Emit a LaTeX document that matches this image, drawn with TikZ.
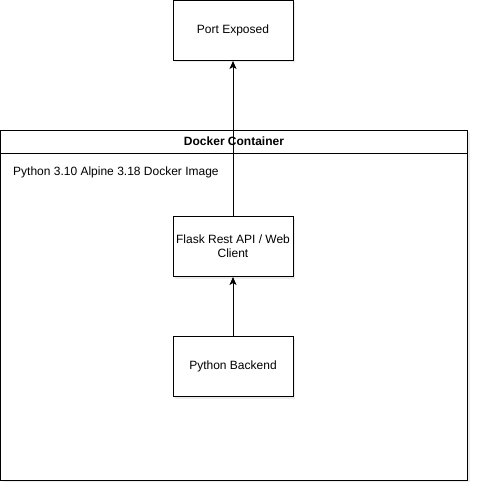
\documentclass[tikz,border=0pt]{standalone}
\usepackage{fontspec}
\setmainfont{Liberation Sans}
\usepackage{tikz}
\usetikzlibrary{positioning}
\usetikzlibrary{arrows.meta}
\usetikzlibrary{shadows}
\tikzstyle{box}=[draw=black, fill=white, line width=1pt, minimum width=120pt, minimum height=60pt, align=center, inner sep=2pt, drop shadow={shadow xshift=2pt, shadow yshift=-2pt, opacity=0.15}]
\tikzstyle{container}=[draw=black, fill=white, line width=1pt, minimum width=467pt, minimum height=350pt, inner sep=0pt, drop shadow={shadow xshift=2pt, shadow yshift=-2pt, opacity=0.15}]
\tikzstyle{header}=[draw=black, fill=white, line width=1pt, minimum width=467pt, minimum height=23pt, inner sep=0pt, font=\fontsize{12}{14}\selectfont\bfseries]
\tikzstyle{link}=[-{Stealth[length=8pt, width=7pt, inset=2pt]}, draw=black, line width=0.9pt]

\begin{document}
\begin{tikzpicture}[x=1pt, y=-1pt, node distance = 155pt, font=\fontsize{12}{14}\selectfont]
    \useasboundingbox (0,0) rectangle (479,492);

    \node[container] (docker)   at (234,305)          {};
    \node[header, anchor=north] (dockhead) at (docker.north) {Docker Container};
    \node[anchor=west, inner sep=0pt] (image) at (13,172) {Python 3.10 Alpine 3.18 Docker Image};

    \node[box]         (port)    at (233,30.5)           {Port Exposed};
    \node[box]         (flask)   [below = of port]       {Flask Rest API / Web\\Client};
    \node[box]         (backend) [below = 59pt of flask] {Python Backend};

    \draw[link] (flask) to (port);
    \draw[link] (backend) to (flask);
\end{tikzpicture}
\end{document}
